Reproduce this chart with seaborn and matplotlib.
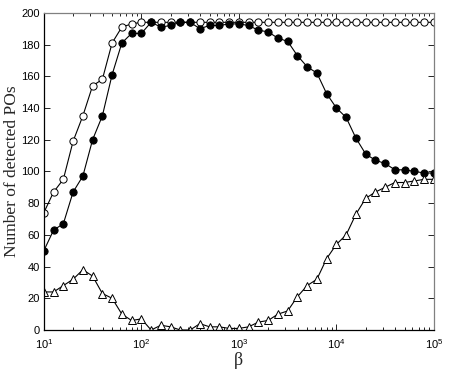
import seaborn as sns
import matplotlib.pyplot as plt
import matplotlib.ticker as mticker
import pandas as pd
import numpy as np

# beta sampled 10 points per decade, 10^1 .. 10^5
exponents = np.arange(41) / 10 + 1
beta = 10 ** exponents

open_circles = [74, 87, 95, 119, 135, 154, 158, 181, 191, 193, 194,
                194, 194, 194, 194, 194, 194, 194, 194, 194, 194,
                194, 194, 194, 194, 194, 194, 194, 194, 194, 194,
                194, 194, 194, 194, 194, 194, 194, 194, 194, 194]

filled_circles = [50, 63, 67, 87, 97, 120, 135, 161, 181, 187, 187,
                  194, 191, 192, 194, 194, 190, 192, 192, 193, 193,
                  192, 189, 188, 184, 182, 173, 166, 162, 149, 140,
                  134, 121, 111, 107, 105, 101, 101, 100, 99, 99]

triangles = [24, 24, 28, 32, 38, 34, 23, 20, 10, 6, 7,
             0, 3, 2, 0, 0, 4, 2, 2, 1, 1,
             2, 5, 6, 10, 12, 21, 28, 32, 45, 54,
             60, 73, 83, 87, 90, 93, 93, 94, 95, 95]

df = pd.DataFrame({"beta": beta, "open": open_circles,
                   "filled": filled_circles, "tri": triangles})

sns.set_style("ticks")
plt.rcParams["xtick.direction"] = "in"
plt.rcParams["ytick.direction"] = "in"

fig = plt.figure(figsize=(4.52, 3.71), dpi=100)
ax = fig.add_axes([0.097, 0.1105, 0.863, 0.855])

line_kw = dict(color="black", linewidth=0.8, markersize=5.2,
               markeredgecolor="black", markeredgewidth=0.7)
sns.lineplot(data=df, x="beta", y="open", ax=ax, marker="o",
             markerfacecolor="white", **line_kw)
sns.lineplot(data=df, x="beta", y="filled", ax=ax, marker="o",
             markerfacecolor="black", **line_kw)
sns.lineplot(data=df, x="beta", y="tri", ax=ax, marker="^",
             markerfacecolor="white", **line_kw)

ax.set_xscale("log")
ax.set_xlim(10, 1e5)
ax.set_ylim(0, 200)
ax.set_yticks(range(0, 201, 20))
ax.xaxis.set_minor_locator(mticker.LogLocator(base=10, subs=np.arange(2, 10)))
ax.xaxis.set_minor_formatter(mticker.NullFormatter())

ax.tick_params(which="both", direction="in", top=True, right=True,
               labelsize=8, length=4, width=0.6, colors="black")
ax.tick_params(which="minor", length=2.5)
ax.tick_params(axis="x", pad=5)
ax.tick_params(axis="y", pad=3)
for lab in ax.get_xticklabels() + ax.get_yticklabels():
    lab.set_family("Liberation Sans")

for side in ["left", "bottom"]:
    ax.spines[side].set_color("black")
    ax.spines[side].set_linewidth(0.9)
for side in ["top", "right"]:
    ax.spines[side].set_visible(True)
    ax.spines[side].set_color("#808080")
    ax.spines[side].set_linewidth(0.9)

ax.set_xlabel("β", family="Liberation Serif", fontsize=13, labelpad=1)
ax.set_ylabel("Number of detected POs", family="Liberation Serif",
              fontsize=12.5, labelpad=1)

fig.savefig("out.png", dpi=100)
